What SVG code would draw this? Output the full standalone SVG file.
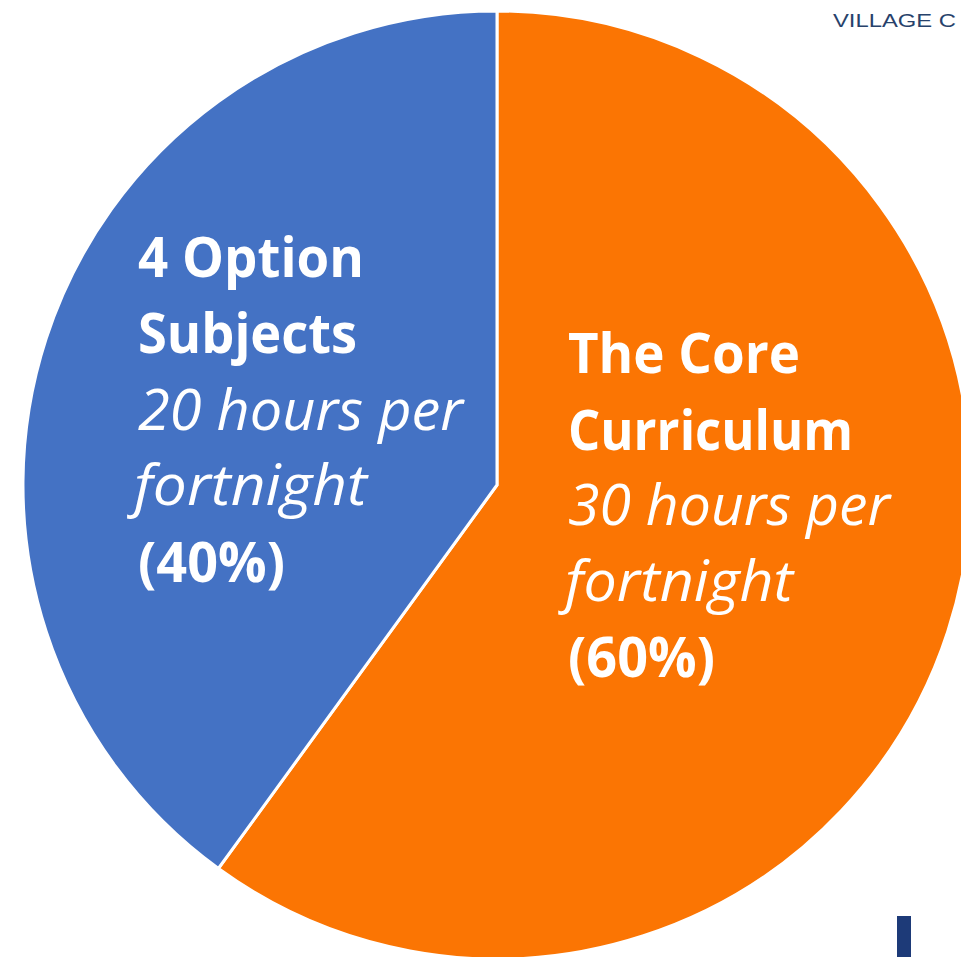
<svg xmlns="http://www.w3.org/2000/svg" width="961" height="957" viewBox="0 0 961 957">
  <style>
    .slice { stroke: #ffffff; stroke-width: 3; stroke-linejoin: miter; }
    .lbl { fill: #ffffff; font-family: "Open Sans", "Liberation Sans", sans-serif; font-size: 56px; }
    .b { font-weight: 700; }
    .i { font-style: italic; font-weight: 400; }
  </style>
  <rect width="961" height="957" fill="#ffffff"/>
  <text x="833" y="27" font-family="'Liberation Sans', sans-serif" font-size="19" fill="#27426b" textLength="123" lengthAdjust="spacingAndGlyphs">VILLAGE C</text>
  <g id="pie">
    <g id="core">
      <path class="slice" fill="#FB7503" d="M497,485 L497,11 A474,474 0 1 1 218.4,868.5 Z"/>
    </g>
    <g id="options">
      <path class="slice" fill="#4472C4" d="M497,485 L218.4,868.5 A474,474 0 0 1 497,11 Z"/>
    </g>
  </g>
  <g id="label-options" class="lbl">
    <text class="b" x="138" y="277" textLength="226" lengthAdjust="spacingAndGlyphs">4 Option</text>
    <text class="b" x="138" y="353" textLength="219" lengthAdjust="spacingAndGlyphs">Subjects</text>
    <text class="i" x="138" y="430" textLength="325" lengthAdjust="spacingAndGlyphs">20 hours per</text>
    <text class="i" x="134" y="505" textLength="233" lengthAdjust="spacingAndGlyphs">fortnight</text>
    <text class="b" x="138" y="582" textLength="147" lengthAdjust="spacingAndGlyphs">(40%)</text>
  </g>
  <g id="label-core" class="lbl">
    <text class="b" x="568" y="373" textLength="232" lengthAdjust="spacingAndGlyphs">The Core</text>
    <text class="b" x="568" y="450" textLength="285" lengthAdjust="spacingAndGlyphs">Curriculum</text>
    <text class="i" x="568" y="525" textLength="322" lengthAdjust="spacingAndGlyphs">30 hours per</text>
    <text class="i" x="565" y="601" textLength="228" lengthAdjust="spacingAndGlyphs">fortnight</text>
    <text class="b" x="568" y="677" textLength="147" lengthAdjust="spacingAndGlyphs">(60%)</text>
  </g>
  <rect x="897" y="916" width="14" height="41" fill="#1d3a78"/>
</svg>
